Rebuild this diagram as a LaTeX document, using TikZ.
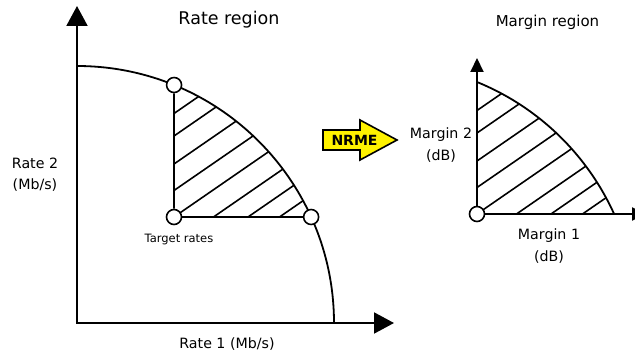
\documentclass[tikz,border=0pt]{standalone}
\usepackage{fontspec}
\setmainfont{DejaVu Sans}
\usetikzlibrary{arrows.meta}
\begin{document}
\begin{tikzpicture}[x=1pt,y=1pt,
  axis/.style={line width=2pt},
  bigaxes/.style={axis,{Triangle[length=20pt,width=21pt]}-{Triangle[length=20pt,width=21pt]}},
  smallaxis/.style={axis,-{Triangle[length=14pt,width=13pt]}},
  bound/.style={line width=1.8pt},
  hatch/.style={line width=1.6pt},
  pt/.style={circle,draw,fill=white,line width=1.6pt,minimum size=15pt,inner sep=0pt},
  lbl/.style={font=\fontsize{14.2}{21.5}\selectfont,align=center,inner sep=0pt},
  nrmearrow/.style={fill=yellow,draw=black,line width=1.6pt,line join=miter},
]
\useasboundingbox (0,0) rectangle (635,354);

% ---------- left: rate region ----------
\coordinate (O1) at (77,31);
\coordinate (Y1) at (77,348);
\coordinate (X1) at (394,31);
\draw[bigaxes] (Y1) -- (O1) -- (X1);

\begin{scope}
  \clip (174,137) -- (174,268.99) arc[start angle=67.826,end angle=24.36,radius=257] -- cycle;
  \foreach \d in {0,26.5,53,81,103.5} \draw[hatch] (174,137+\d) -- ++(200,138);
  \foreach \e in {39.5,74,105.5} \draw[hatch] (174+\e,137) -- ++(200,138);
\end{scope}
\draw[bound] (77,288) arc[start angle=90,end angle=0,radius=257];

\node[pt] (A) at (174,137) {};
\node[pt] (P1) at (174.07,268.99) {};
\node[pt] (P2) at (311.12,137) {};
\draw[bound] (A) -- (P1);
\draw[bound] (A) -- (P2);

\node[font=\fontsize{17.5}{21}\selectfont,anchor=base] (t1) at (229,329) {Rate region};
\node[lbl] (r2) at (35,179.4) {Rate 2\\(Mb/s)};
\node[font=\fontsize{11.5}{13}\selectfont,anchor=base] (tr) at (179,112) {Target rates};
\node[font=\fontsize{14.2}{17}\selectfont,anchor=base] (r1) at (227,6) {Rate 1 (Mb/s)};

% ---------- NRME arrow ----------
\draw[nrmearrow] (323,224) -- (360,224) -- (360,234) -- (397,214) -- (360,194) -- (360,204) -- (323,204) -- cycle;
\node[font=\bfseries\fontsize{14}{17}\selectfont] (nrme) at (354.5,213.5) {NRME};

% ---------- right: margin region ----------
\coordinate (Y2) at (477,296);
\coordinate (X2) at (646,140);
\begin{scope}
  \clip (477,140) -- (477,271.99) arc[start angle=67.826,end angle=24.36,radius=257] -- cycle;
  \foreach \d in {0,26.5,53,81,103.5} \draw[hatch] (477,140+\d) -- ++(200,138);
  \foreach \e in {39.5,74,105.5} \draw[hatch] (477+\e,140) -- ++(200,138);
\end{scope}
\draw[bound] (477,271.99) arc[start angle=67.826,end angle=24.36,radius=257];
\node[pt] (B) at (477,140) {};
\draw[smallaxis] (B) -- (Y2);
\draw[smallaxis] (B) -- (X2);

\node[font=\fontsize{15}{18}\selectfont,anchor=base] (t2) at (547.5,327.3) {Margin region};
\node[lbl] (m2) at (441,209.2) {Margin 2\\(dB)};
\node[lbl] (m1) at (549,108) {Margin 1\\(dB)};
\end{tikzpicture}
\end{document}
